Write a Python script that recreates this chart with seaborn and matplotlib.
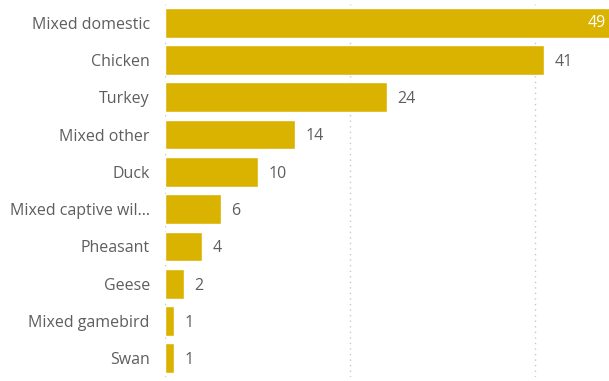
import matplotlib
matplotlib.use("Agg")
import matplotlib.pyplot as plt
import seaborn as sns
import pandas as pd

categories = ["Mixed domestic", "Chicken", "Turkey", "Mixed other", "Duck",
              "Mixed captive wil...", "Pheasant", "Geese", "Mixed gamebird", "Swan"]
values = [49, 41, 24, 14, 10, 6, 4, 2, 1, 1]

df = pd.DataFrame({"category": categories, "count": values})

sns.set_theme(style="white")
plt.rcParams["font.family"] = ["Open Sans", "DejaVu Sans"]

fig = plt.figure(figsize=(6.09, 3.81), dpi=100)
ax = fig.add_axes([0.271, 0.0105, 0.729, 0.979])

bar_color = "#DAB300"
sns.barplot(data=df, y="category", x="count", orient="h", color=bar_color,
            width=0.8, ax=ax, saturation=1)

xmax = 48
ax.set_xlim(0, xmax)
ax.set_ylim(len(categories) - 0.5, -0.5)
ax.set_xticks([0, 20, 40])
ax.xaxis.grid(True, linestyle=(0, (1, 3)), color="#C8C8C8", linewidth=1)
ax.set_axisbelow(True)
ax.set_xticklabels([])
ax.set_xlabel("")
ax.set_ylabel("")
for s in ax.spines.values():
    s.set_visible(False)
ax.tick_params(axis="y", length=0, pad=11, labelsize=11.5, labelcolor="#605E5C")
ax.tick_params(axis="x", length=0)

for i, v in enumerate(values):
    if v > xmax * 0.95:
        ax.text(xmax - 0.3, i, str(v), va="center", ha="right", color="white",
                fontsize=11.5)
    else:
        ax.text(v + 1.15, i + 0.05, str(v), va="center", ha="left",
                color="#605E5C", fontsize=11.5)

fig.savefig("out.png", dpi=100)
